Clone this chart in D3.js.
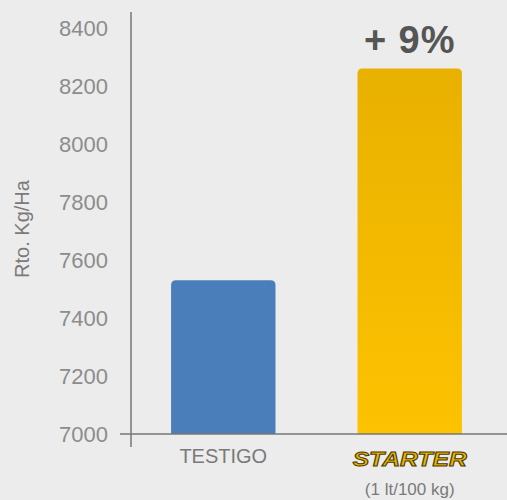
<!DOCTYPE html>
<html>
<head>
<meta charset="utf-8">
<script src="https://cdn.jsdelivr.net/npm/d3@7"></script>
<style>
  body { margin: 0; background: #ececec; }
  svg { display: block; font-family: "Liberation Sans", Arial, sans-serif; }
</style>
</head>
<body>
<script>
// chart data
const categories = ["TESTIGO", "STARTER"];
const values = [7530, 8260];
const yTicks = [7000, 7200, 7400, 7600, 7800, 8000, 8200, 8400];
const barColors = ["#4a7ebb", "#f8bb00"];
const gainLabel = "+ 9%";

function drawChart() {
  const width = 507, height = 500;

  const svg = d3.select("body").append("svg")
    .attr("width", width)
    .attr("height", height)
    .style("background", "#ececec");

  // gold gradient for the second bar
  const defs = svg.append("defs");
  const grad = defs.append("linearGradient")
    .attr("id", "gold").attr("x1", 0).attr("y1", 0).attr("x2", 0).attr("y2", 1);
  grad.append("stop").attr("offset", "0%").attr("stop-color", "#e9b100");
  grad.append("stop").attr("offset", "100%").attr("stop-color", "#fdc200");

  const yScale = d3.scaleLinear()
    .domain([7000, 8400])
    .range([434, 28]);

  const xScale = d3.scaleBand()
    .domain(categories)
    .range([131, 502])
    .paddingInner(0.44)
    .paddingOuter(0.215);

  // bars (rounded top corners)
  svg.selectAll("path.bar")
    .data(categories)
    .enter()
    .append("path")
    .attr("class", "bar")
    .attr("fill", (d, i) => i == 1 ? "url(#gold)" : barColors[i])
    .attr("d", (d, i) => {
      const x0 = xScale(d), w = xScale.bandwidth();
      const y0 = yScale(values[i]), y1 = yScale(7000), r = 5;
      return `M${x0},${y1} V${y0 + r} Q${x0},${y0} ${x0 + r},${y0} H${x0 + w - r} Q${x0 + w},${y0} ${x0 + w},${y0 + r} V${y1} Z`;
    });

  // y axis
  const yAxis = d3.axisLeft(yScale)
    .tickValues(yTicks)
    .tickSize(0)
    .tickPadding(23)
    .tickFormat(d3.format("d"));

  const gY = svg.append("g")
    .attr("transform", "translate(131,0)")
    .call(yAxis);
  gY.select(".domain").remove();
  gY.selectAll("text")
    .style("font-size", "22px")
    .attr("fill", "#8c8c8c");

  svg.append("line")
    .attr("x1", 131).attr("x2", 131)
    .attr("y1", 12).attr("y2", 447)
    .attr("stroke", "#777").attr("stroke-width", 1.5);

  // x axis
  svg.append("line")
    .attr("x1", 120).attr("x2", width)
    .attr("y1", yScale(7000)).attr("y2", yScale(7000))
    .attr("stroke", "#777").attr("stroke-width", 1.5);

  const cx = d => xScale(d) + xScale.bandwidth() / 2;

  // category labels
  svg.append("text")
    .attr("x", cx("TESTIGO"))
    .attr("y", 463)
    .attr("text-anchor", "middle")
    .style("font-size", "20px")
    .attr("fill", "#7a7a7a")
    .text("TESTIGO");

  svg.append("text")
    .attr("x", cx("STARTER"))
    .attr("y", 466)
    .attr("text-anchor", "middle")
    .style("font-size", "20px")
    .style("font-weight", "bold")
    .style("font-style", "italic")
    .attr("fill", "#e8b400")
    .attr("stroke", "#4a3a00")
    .attr("stroke-width", 1)
    .attr("textLength", 114)
    .attr("lengthAdjust", "spacingAndGlyphs")
    .text("STARTER");

  svg.append("text")
    .attr("x", cx("STARTER"))
    .attr("y", 495)
    .attr("text-anchor", "middle")
    .style("font-size", "17px")
    .attr("fill", "#7a7a7a")
    .text("(1 lt/100 kg)");

  // gain label over the second bar
  svg.append("text")
    .attr("x", cx("STARTER"))
    .attr("y", 53)
    .attr("text-anchor", "middle")
    .style("font-size", "38px")
    .style("font-weight", "bold")
    .style("letter-spacing", "1px")
    .attr("fill", "#555")
    .text(gainLabel);

  // y axis title
  svg.append("text")
    .attr("transform", "translate(29,229) rotate(-90)")
    .attr("text-anchor", "middle")
    .style("font-size", "20px")
    .attr("fill", "#7a7a7a")
    .text("Rto. Kg/Ha");
}

drawChart();
</script>
</body>
</html>
